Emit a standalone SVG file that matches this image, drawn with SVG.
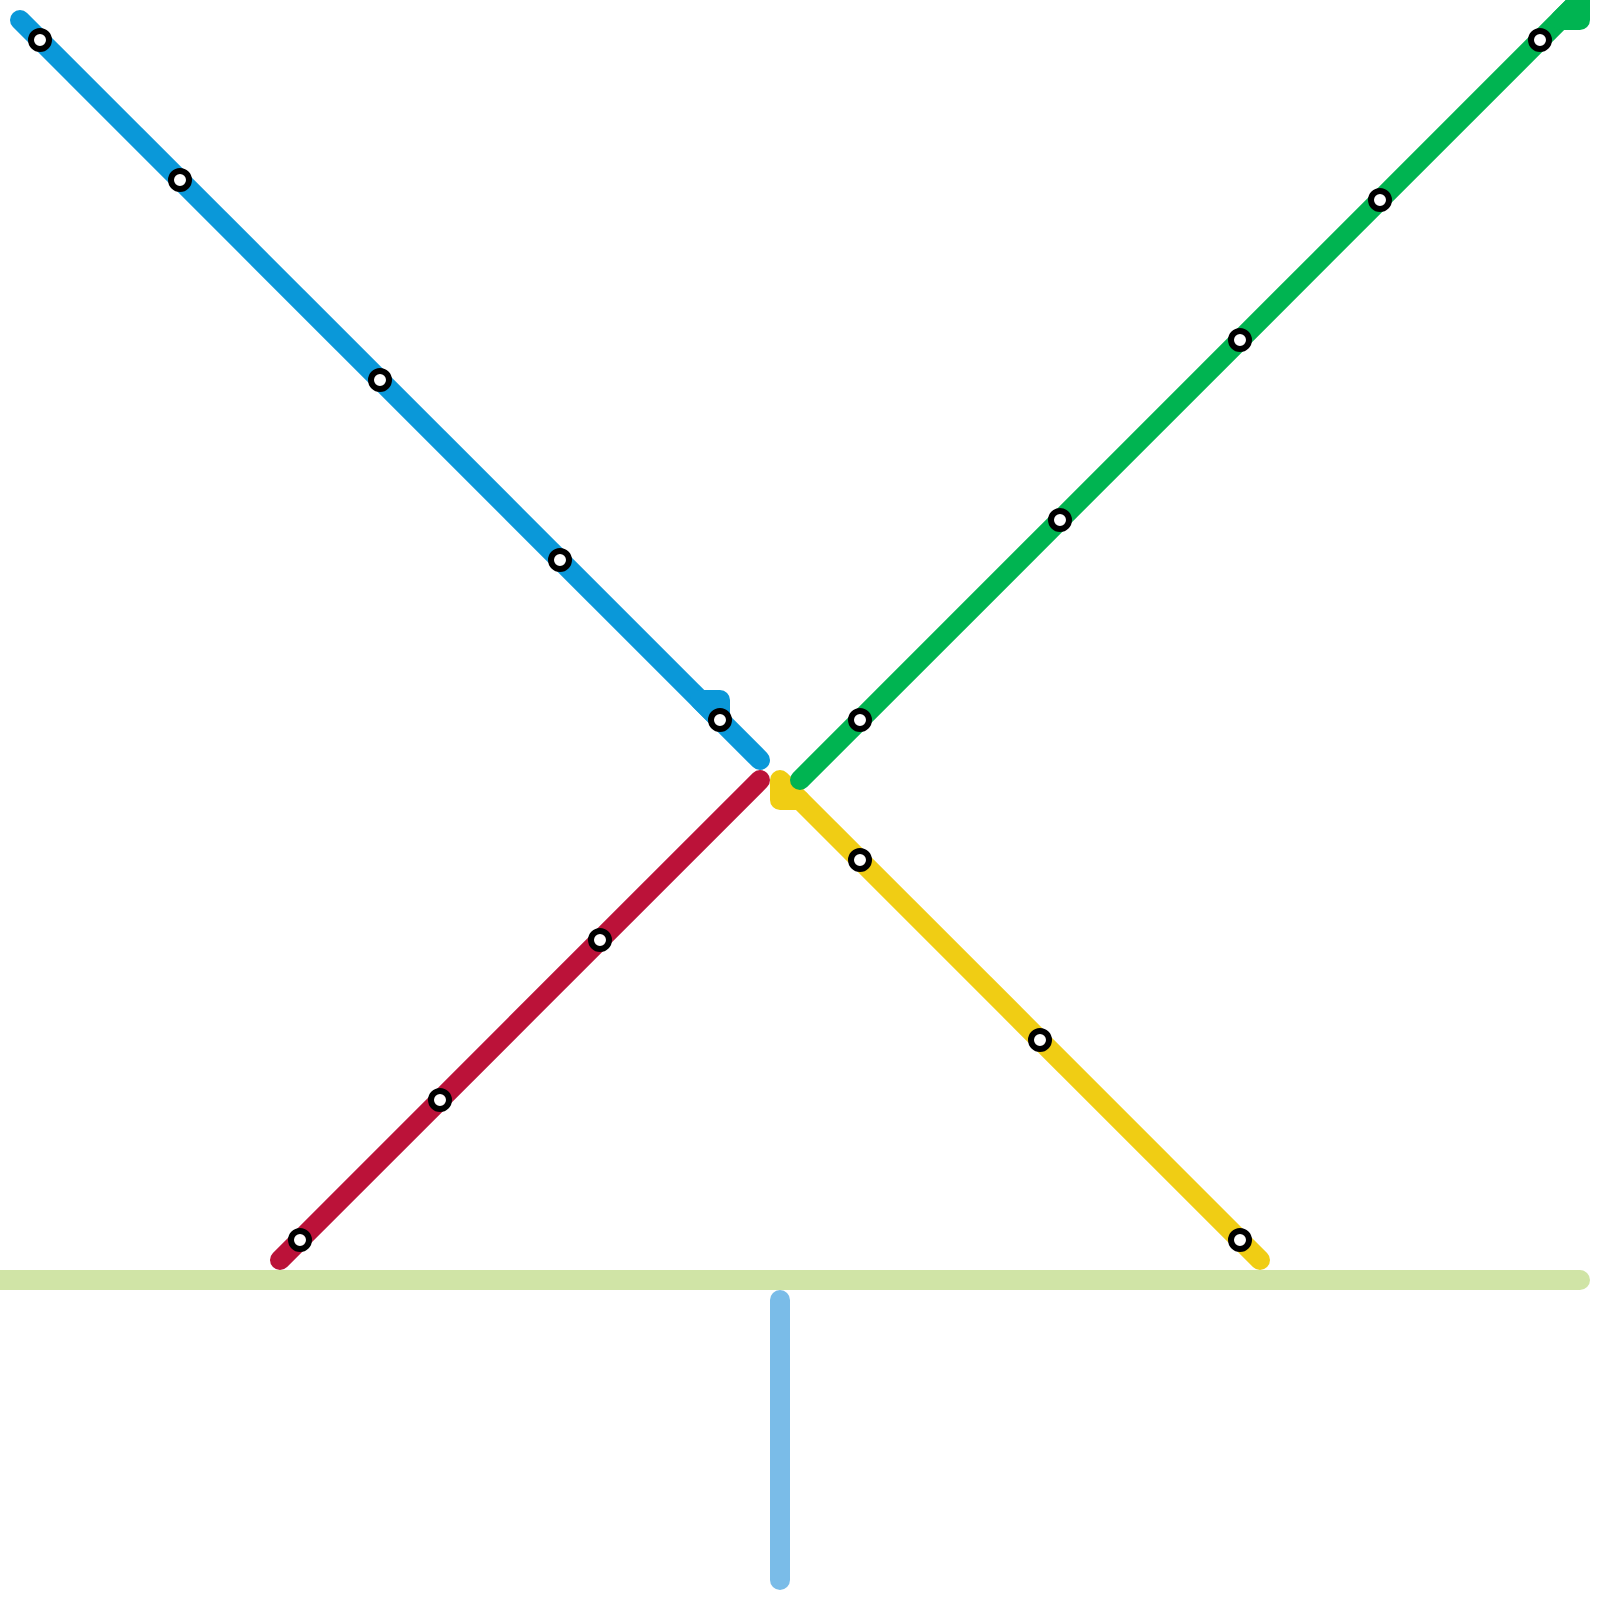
<svg xmlns="http://www.w3.org/2000/svg" width="1600" height="1600" viewBox="0 0 1600 1600">
<style>
.l{fill:none;stroke-width:20;stroke-linecap:round;stroke-linejoin:round}
.f{stroke-width:20;stroke-linejoin:round}
.s{fill:#fff;stroke:#000;stroke-width:6}
</style>
<defs><circle id="st" r="9" class="s"/></defs>
<g id="connectors">
<path id="line-pale" class="l" stroke="#d0e4a6" d="M-20 1280H1580"/>
<path id="line-sky" class="l" stroke="#7abce8" d="M780 1300V1580"/>
<path id="line-blue" class="l" stroke="#0a98d9" d="M20 20L760 760"/>
<path id="blue-spur" class="f" fill="#0a98d9" stroke="#0a98d9" d="M700 700H720V720Z"/>
<path id="line-red" class="l" stroke="#bb1239" d="M280 1260L760 780"/>
<path id="line-yellow" class="l" stroke="#f0cd14" d="M800 800L1260 1260"/>
<path id="yellow-spur" class="f" fill="#f0cd14" stroke="#f0cd14" d="M780 780V800H800Z"/>
<path id="line-green" class="l" stroke="#00b451" d="M800 780L1580 0"/>
<path id="green-spur" class="f" fill="#00b451" stroke="#00b451" d="M1560 20H1580V0Z"/>
</g>
<g id="s1"><use href="#st" x="40" y="40"/></g>
<g id="s2"><use href="#st" x="180" y="180"/></g>
<g id="s3"><use href="#st" x="380" y="380"/></g>
<g id="s4"><use href="#st" x="560" y="560"/></g>
<g id="s5"><use href="#st" x="720" y="720"/></g>
<g id="s6"><use href="#st" x="300" y="1240"/></g>
<g id="s7"><use href="#st" x="440" y="1100"/></g>
<g id="s8"><use href="#st" x="600" y="940"/></g>
<g id="s9"><use href="#st" x="860" y="860"/></g>
<g id="s10"><use href="#st" x="1040" y="1040"/></g>
<g id="s11"><use href="#st" x="1240" y="1240"/></g>
<g id="s12"><use href="#st" x="860" y="720"/></g>
<g id="s13"><use href="#st" x="1060" y="520"/></g>
<g id="s14"><use href="#st" x="1240" y="340"/></g>
<g id="s15"><use href="#st" x="1380" y="200"/></g>
<g id="s16"><use href="#st" x="1540" y="40"/></g>
</svg>
